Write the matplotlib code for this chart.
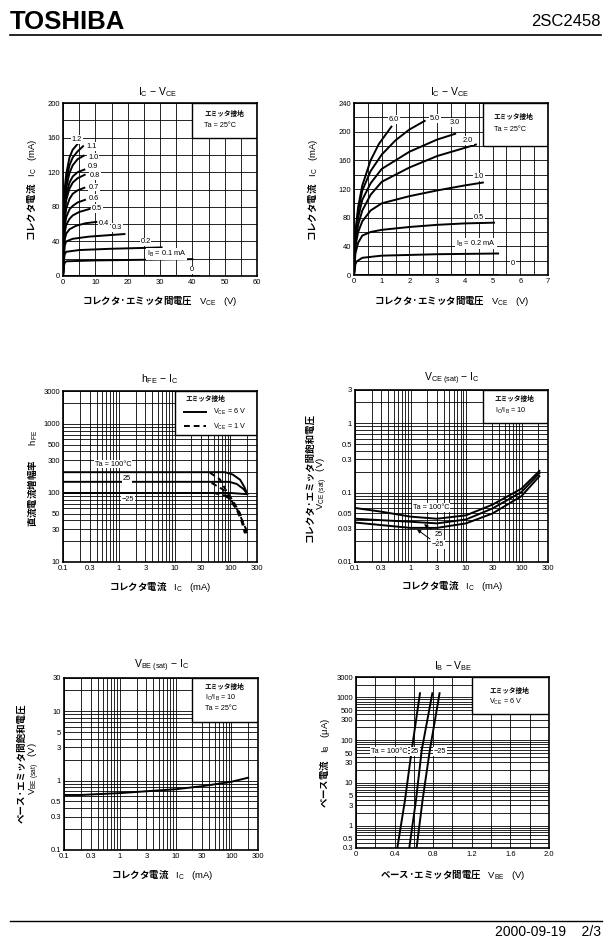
import numpy as np
import matplotlib
matplotlib.use("Agg")
import matplotlib.pyplot as plt
from matplotlib.patches import Rectangle
from matplotlib.lines import Line2D
from matplotlib.ticker import (FixedLocator, FixedFormatter, LogLocator,
                               NullFormatter, MultipleLocator)

# ---------------------------------------------------
# DATA : IC - VCE (0 - 60 V), IB in mA
# ---------------------------------------------------

ib_a = ["0", "0.1", "0.2", "0.3", "0.4", "0.5", "0.6",
        "0.7", "0.8", "0.9", "1.0", "1.1", "1.2"]

vce_a = [
    [0, 42],
    [0, 0.3, 0.5, 1, 10, 40],
    [0, 0.3, 0.5, 1, 5, 15, 30.5],
    [0, 0.3, 0.5, 1, 3, 8, 19],
    [0, 0.3, 0.5, 1, 2, 4, 7, 10.3],
    [0, 0.3, 0.5, 1, 2, 3, 5, 8.2],
    [0, 0.3, 0.5, 1, 2, 3, 4.5, 6.8],
    [0, 0.3, 0.5, 1, 2, 3, 4.5, 6.6],
    [0, 0.3, 0.5, 1, 2, 3, 4.5, 6.7],
    [0, 0.3, 0.5, 1, 2, 3, 4.5, 6.6],
    [0, 0.3, 0.5, 1, 2, 3, 4.5, 6.4],
    [0, 0.3, 0.5, 1, 2, 3, 4.5, 6.2],
    [0, 0.3, 0.5, 1, 2, 3, 4.6],
]

ic_a = [
    [0, 0],
    [0, 12, 15, 17, 18, 19.5],
    [0, 18, 25, 28, 30, 31.5, 33],
    [0, 22, 35, 40, 43, 45.5, 48.5],
    [0, 26, 42, 49, 54, 58, 61, 62.5],
    [0, 30, 50, 59, 66, 70, 74, 77.5],
    [0, 34, 57, 68, 77, 81, 85, 88],
    [0, 38, 64, 78, 89, 95, 99, 102],
    [0, 42, 72, 88, 101, 108, 113, 117],
    [0, 45, 78, 94, 108, 115, 120, 123],
    [0, 50, 85, 102, 119, 128, 135, 139],
    [0, 55, 92, 110, 128, 137, 144, 150],
    [0, 60, 100, 118, 137, 146, 153],
]

# ---------------------------------------------------
# DATA : IC - VCE (0 - 7 V), IB in mA
# ---------------------------------------------------

ib_b = ["0", "0.2", "0.5", "1.0", "2.0", "3.0", "5.0", "6.0"]

vce_b = [
    [0, 5.2],
    [0, 0.05, 0.1, 0.3, 1, 3, 5.2],
    [0, 0.05, 0.15, 0.3, 0.6, 1, 2, 3, 4, 5.05],
    [0, 0.05, 0.15, 0.3, 0.6, 1, 2, 3, 4, 4.65],
    [0, 0.05, 0.15, 0.3, 0.6, 1, 2, 3, 4.4],
    [0, 0.05, 0.15, 0.3, 0.6, 1, 2, 3, 3.65],
    [0, 0.05, 0.15, 0.3, 0.6, 1, 1.5, 2, 2.55],
    [0, 0.05, 0.15, 0.3, 0.6, 0.9, 1.35],
]

ic_b = [
    [0, 0],
    [0, 15, 19, 24, 27, 29, 30],
    [0, 30, 45, 55, 60, 63, 67, 70, 72, 73],
    [0, 40, 60, 75, 90, 100, 110, 118, 125, 129],
    [0, 45, 70, 90, 112, 130, 150, 166, 182],
    [0, 50, 80, 105, 128, 148, 172, 189, 197],
    [0, 55, 90, 118, 145, 168, 188, 203, 215],
    [0, 60, 95, 125, 160, 183, 207],
]

# ---------------------------------------------------
# DATA : hFE - IC  (Ta = 100, 25, -25 °C)
# ---------------------------------------------------

ta_labels = ["100", "25", "-25"]

ic_h6 = [[0.1, 80, 110, 150, 180, 200],
         [0.1, 95, 130, 170, 200],
         [0.1, 100, 200]]
hfe_6 = [[200, 200, 185, 155, 120, 97],
         [145, 145, 135, 115, 97],
         [100, 100, 96]]

ic_h1 = [[43, 65, 85, 112, 148, 194],
         [46, 74, 98, 130, 160, 182],
         [50, 80, 106, 139, 170, 210]]
hfe_1 = [[197, 157, 106, 76, 51, 26],
         [140, 112, 80, 57, 38, 26],
         [100, 92, 76, 54, 37, 25]]

# ---------------------------------------------------
# DATA : VCE(sat) - IC
# ---------------------------------------------------

ic_s = [0.1, 0.3, 1, 3, 10, 30, 100, 210]
vce_sat = [
    [0.060, 0.053, 0.045, 0.042, 0.047, 0.067, 0.114, 0.205],
    [0.042, 0.040, 0.038, 0.036, 0.041, 0.059, 0.102, 0.190],
    [0.037, 0.034, 0.031, 0.031, 0.036, 0.050, 0.089, 0.172],
]

# ---------------------------------------------------
# DATA : VBE(sat) - IC
# ---------------------------------------------------

ic_v = [0.1, 0.2, 1, 10, 30, 100, 200]
vbe_sat = [0.62, 0.62, 0.66, 0.75, 0.83, 0.96, 1.10]

# ---------------------------------------------------
# DATA : IB - VBE (IB in uA)
# ---------------------------------------------------

vbe_b = [[0.428, 0.508, 0.577, 0.663],
         [0.552, 0.622, 0.681, 0.791],
         [0.628, 0.690, 0.765, 0.866]]
ib_vbe = [0.3, 4, 58, 1250]

# ---------------------------------------------------
# TICK LABELS
# ---------------------------------------------------

xt_a = [0, 10, 20, 30, 40, 50, 60]
yt_a = [0, 40, 80, 120, 160, 200]
xt_b = [0, 1, 2, 3, 4, 5, 6, 7]
yt_b = [0, 40, 80, 120, 160, 200, 240]
xt_log = [0.1, 0.3, 1, 3, 10, 30, 100, 300]
xl_log = ["0.1", "0.3", "1", "3", "10", "30", "100", "300"]
yt_h = [10, 30, 50, 100, 300, 500, 1000, 3000]
yt_s = [0.01, 0.03, 0.05, 0.1, 0.3, 0.5, 1, 3]
yl_s = ["0.01", "0.03", "0.05", "0.1", "0.3", "0.5", "1", "3"]
yt_v = [0.1, 0.3, 0.5, 1, 3, 5, 10, 30]
yl_v = ["0.1", "0.3", "0.5", "1", "3", "5", "10", "30"]
xt_f = [0, 0.4, 0.8, 1.2, 1.6, 2.0]
xl_f = ["0", "0.4", "0.8", "1.2", "1.6", "2.0"]
yt_f = [0.3, 0.5, 1, 3, 5, 10, 30, 50, 100, 300, 500, 1000, 3000]
yl_f = ["0.3", "0.5", "1", "3", "5", "10", "30", "50", "100",
        "300", "500", "1000", "3000"]

# ---------------------------------------------------
# STYLE
# ---------------------------------------------------

plt.rcParams["font.family"] = ["Liberation Sans", "Noto Sans CJK JP"]
plt.rcParams["mathtext.fontset"] = "custom"
plt.rcParams["mathtext.rm"] = "Liberation Sans"
plt.rcParams["mathtext.it"] = "Liberation Sans:italic"
plt.rcParams["mathtext.bf"] = "Liberation Sans:bold"

W, H = 609, 949
fig = plt.figure(figsize=(W / 100, H / 100), dpi=100)

JP = dict(family="Noto Sans CJK JP", fontweight="bold")
LBL = 6.8
TTL = 7.5
MARK = 5.3
WHITE = dict(facecolor="white", edgecolor="none", pad=0.6)


def place_axes(left, top, right, bottom):
    return fig.add_axes([left / W, 1 - bottom / H,
                         (right - left) / W, (bottom - top) / H])


def put(x, y, s, **kw):
    fig.text(x / W, 1 - y / H, s, ha="center", va="center", **kw)


def style(ax, xt, xl, yt, yl):
    ax.xaxis.set_major_locator(FixedLocator(xt))
    ax.xaxis.set_major_formatter(FixedFormatter(xl))
    ax.yaxis.set_major_locator(FixedLocator(yt))
    ax.yaxis.set_major_formatter(FixedFormatter(yl))
    ax.xaxis.set_minor_formatter(NullFormatter())
    ax.yaxis.set_minor_formatter(NullFormatter())
    ax.tick_params(which="both", length=0, labelsize=5.5, pad=2.2)
    ax.grid(which="both", color="black", linewidth=0.6)
    for sp in ax.spines.values():
        sp.set_linewidth(1.2)


def log_minor(axis):
    axis.set_minor_locator(LogLocator(10, subs=np.arange(2, 10), numticks=40))


def info_box(ax, x0, x1, y0, y1):
    ax.add_patch(Rectangle((x0, y0), x1 - x0, y1 - y0, facecolor="white",
                           edgecolor="black", linewidth=1.0, zorder=2))


def box_text(ax, x, y, s, jp=False):
    if jp:
        ax.text(x, y, s, transform=ax.transAxes, fontsize=4.8,
                va="center", zorder=5, **JP)
    else:
        ax.text(x, y, s, transform=ax.transAxes, fontsize=5.2,
                va="center", zorder=5)


# ---------------------------------------------------
# HEADER / FOOTER
# ---------------------------------------------------

fig.text(10 / W, 1 - 22 / H, "TOSHIBA", fontsize=18.5, fontweight="bold",
         ha="left", va="center")
fig.text(601 / W, 1 - 22 / H, "2SC2458", fontsize=12, ha="right", va="center")
fig.add_artist(Line2D([10 / W, 601 / W], [1 - 35 / H, 1 - 35 / H],
                      transform=fig.transFigure, color="black", lw=1.2))
fig.add_artist(Line2D([10 / W, 602 / W], [1 - 921 / H, 1 - 921 / H],
                      transform=fig.transFigure, color="black", lw=1.0))
fig.text(601 / W, 1 - 932 / H, "2000-09-19    2/3", fontsize=10,
         ha="right", va="center")

# ---------------------------------------------------
# IC - VCE  (LEFT TOP)
# ---------------------------------------------------

ax1 = place_axes(63, 103, 257, 276)
ax1.set_xlim(0, 60)
ax1.set_ylim(0, 200)
ax1.xaxis.set_minor_locator(MultipleLocator(5))
ax1.yaxis.set_minor_locator(MultipleLocator(20))
style(ax1, xt_a, [str(v) for v in xt_a], yt_a, [str(v) for v in yt_a])
info_box(ax1, 40, 60, 160, 200)

for v, i in zip(vce_a, ic_a):
    ax1.plot(v, i, color="black", lw=1.4, zorder=3)

lab_pos_a = [(39.8, 7), (32, 25.5), (25.5, 39.4), (16.7, 56), (12.7, 61),
             (10.5, 78), (9.6, 90), (9.6, 102.7), (10, 116), (9.3, 126.6),
             (9.3, 137), (8.8, 150), (4.3, 157.5)]
for name, (x, y) in zip(ib_a, lab_pos_a):
    s = r"$\mathrm{I_B}$ = " + name + " mA" if name == "0.1" else name
    ax1.text(x, y, s, fontsize=MARK, ha="center", va="center",
             bbox=WHITE, zorder=4)

box_text(ax1, 0.728, 0.942, "エミッタ接地", jp=True)
box_text(ax1, 0.728, 0.869, "Ta = 25°C")

put(158, 92, r"$\mathrm{I_C}$ − $\mathrm{V_{CE}}$", fontsize=TTL)
put(160, 301, r"コレクタ·エミッタ間電圧$\quad\mathrm{V_{CE}}\quad\mathrm{(V)}$",
    fontsize=LBL, **JP)
put(32, 190, r"コレクタ電流$\quad\mathrm{I_C}\quad\mathrm{(mA)}$",
    fontsize=LBL, rotation=90, **JP)

# ---------------------------------------------------
# IC - VCE  (RIGHT TOP)
# ---------------------------------------------------

ax2 = place_axes(354, 103, 548, 275)
ax2.set_xlim(0, 7)
ax2.set_ylim(0, 240)
ax2.xaxis.set_minor_locator(MultipleLocator(0.5))
ax2.yaxis.set_minor_locator(MultipleLocator(20))
style(ax2, xt_b, [str(v) for v in xt_b], yt_b, [str(v) for v in yt_b])
info_box(ax2, 4.65, 7, 180, 240)

for v, i in zip(vce_b, ic_b):
    ax2.plot(v, i, color="black", lw=1.4, zorder=3)

lab_pos_b = [(5.74, 16), (4.4, 44), (4.5, 80), (4.5, 137), (4.1, 188),
             (3.62, 212.6), (2.93, 218), (1.45, 216.8)]
for name, (x, y) in zip(ib_b, lab_pos_b):
    s = r"$\mathrm{I_B}$ = " + name + " mA" if name == "0.2" else name
    ax2.text(x, y, s, fontsize=MARK, ha="center", va="center",
             bbox=WHITE, zorder=4)

box_text(ax2, 0.72, 0.919, "エミッタ接地", jp=True)
box_text(ax2, 0.72, 0.847, "Ta = 25°C")

put(450, 92, r"$\mathrm{I_C}$ − $\mathrm{V_{CE}}$", fontsize=TTL)
put(452, 301, r"コレクタ·エミッタ間電圧$\quad\mathrm{V_{CE}}\quad\mathrm{(V)}$",
    fontsize=LBL, **JP)
put(313, 190, r"コレクタ電流$\quad\mathrm{I_C}\quad\mathrm{(mA)}$",
    fontsize=LBL, rotation=90, **JP)

# ---------------------------------------------------
# hFE - IC
# ---------------------------------------------------

ax3 = place_axes(63, 391, 257, 562)
ax3.set_xscale("log")
ax3.set_yscale("log")
ax3.set_xlim(0.1, 300)
ax3.set_ylim(10, 3000)
log_minor(ax3.xaxis)
log_minor(ax3.yaxis)
style(ax3, xt_log, xl_log, yt_h, [str(v) for v in yt_h])
info_box(ax3, 10, 300, 700, 3000)

solid = []
for x, y in zip(ic_h6, hfe_6):
    solid += ax3.plot(x, y, color="black", lw=1.4, zorder=3)
dashed = []
for x, y in zip(ic_h1, hfe_1):
    dashed += ax3.plot(x, y, color="black", lw=1.4, zorder=3,
                       linestyle=(0, (3, 2)))

ax3.text(0.629, 0.955, "エミッタ接地", transform=ax3.transAxes,
         fontsize=4.8, va="center", zorder=5, **JP)
ax3.legend(handles=[solid[0], dashed[0]],
           labels=[r"$\mathrm{V_{CE}}$ = 6 V", r"$\mathrm{V_{CE}}$ = 1 V"],
           loc="upper left", bbox_to_anchor=(0.625, 0.905), frameon=False,
           fontsize=5.2, handlelength=3.0, handletextpad=1.0,
           labelspacing=0.55, borderpad=0, borderaxespad=0)

ta_pos_h = [(0.259, 0.573), (0.328, 0.49), (0.336, 0.363)]
for name, (x, y) in zip(ta_labels, ta_pos_h):
    s = "Ta = 100°C" if name == "100" else name.replace("-", "−")
    ax3.text(x, y, s, transform=ax3.transAxes, fontsize=MARK,
             ha="center", va="center", bbox=WHITE, zorder=4)

put(160, 379, r"$\mathrm{h_{FE}}$ − $\mathrm{I_C}$", fontsize=TTL)
put(160, 587, r"コレクタ電流$\quad\mathrm{I_C}\quad\mathrm{(mA)}$",
    fontsize=LBL, **JP)
put(32, 478, r"直流電流増幅率$\quad\quad\mathrm{h_{FE}}$",
    fontsize=LBL, rotation=90, **JP)

# ---------------------------------------------------
# VCE(sat) - IC
# ---------------------------------------------------

ax4 = place_axes(355, 390, 548, 562)
ax4.set_xscale("log")
ax4.set_yscale("log")
ax4.set_xlim(0.1, 300)
ax4.set_ylim(0.01, 3)
log_minor(ax4.xaxis)
log_minor(ax4.yaxis)
style(ax4, xt_log, xl_log, yt_s, yl_s)
info_box(ax4, 20, 300, 1, 3)

for y in vce_sat:
    ax4.plot(ic_s, y, color="black", lw=1.4, zorder=3)

ax4.text(0.395, 0.317, "Ta = 100°C", transform=ax4.transAxes, fontsize=MARK,
         ha="center", va="center", bbox=WHITE, zorder=4)
ax4.annotate("25", xy=(1.6, 0.037), xytext=(0.433, 0.159),
             textcoords="axes fraction", fontsize=MARK, ha="center",
             va="center", bbox=WHITE, zorder=4,
             arrowprops=dict(arrowstyle="-|>", color="black", lw=0.7,
                             mutation_scale=5))
ax4.annotate("−25", xy=(1.2, 0.031), xytext=(0.43, 0.10),
             textcoords="axes fraction", fontsize=MARK, ha="center",
             va="center", bbox=WHITE, zorder=4,
             arrowprops=dict(arrowstyle="-|>", color="black", lw=0.7,
                             mutation_scale=5))

box_text(ax4, 0.725, 0.951, "エミッタ接地", jp=True)
box_text(ax4, 0.725, 0.878, r"$\mathrm{I_C/I_B}$ = 10")

put(452, 379, r"$\mathrm{V_{CE\ (sat)}}$ − $\mathrm{I_C}$", fontsize=TTL)
put(452, 586, r"コレクタ電流$\quad\mathrm{I_C}\quad\mathrm{(mA)}$",
    fontsize=LBL, **JP)
put(309, 477, "コレクタ·エミッタ間飽和電圧", fontsize=LBL, rotation=90, **JP)
put(322, 483, r"$\mathrm{V_{CE\ (sat)}}\quad\mathrm{(V)}$",
    fontsize=LBL, rotation=90)

# ---------------------------------------------------
# VBE(sat) - IC
# ---------------------------------------------------

ax5 = place_axes(64, 678, 258, 850)
ax5.set_xscale("log")
ax5.set_yscale("log")
ax5.set_xlim(0.1, 300)
ax5.set_ylim(0.1, 30)
log_minor(ax5.xaxis)
log_minor(ax5.yaxis)
style(ax5, xt_log, xl_log, yt_v, yl_v)
info_box(ax5, 20, 300, 7, 30)

ax5.plot(ic_v, vbe_sat, color="black", lw=1.4, zorder=3)

box_text(ax5, 0.725, 0.951, "エミッタ接地", jp=True)
box_text(ax5, 0.725, 0.887, r"$\mathrm{I_C/I_B}$ = 10")
box_text(ax5, 0.725, 0.821, "Ta = 25°C")

put(162, 666, r"$\mathrm{V_{BE\ (sat)}}$ − $\mathrm{I_C}$", fontsize=TTL)
put(162, 875, r"コレクタ電流$\quad\mathrm{I_C}\quad\mathrm{(mA)}$",
    fontsize=LBL, **JP)
put(21, 763, "ベース·エミッタ間飽和電圧", fontsize=LBL, rotation=90, **JP)
put(34, 769, r"$\mathrm{V_{BE\ (sat)}}\quad\mathrm{(V)}$",
    fontsize=LBL, rotation=90)

# ---------------------------------------------------
# IB - VBE
# ---------------------------------------------------

ax6 = place_axes(356, 677, 549, 848)
ax6.set_yscale("log")
ax6.set_xlim(0, 2.0)
ax6.set_ylim(0.3, 3000)
ax6.xaxis.set_minor_locator(MultipleLocator(0.2))
log_minor(ax6.yaxis)
style(ax6, xt_f, xl_f, yt_f, yl_f)
info_box(ax6, 1.2, 2.0, 400, 3000)

for x in vbe_b:
    ax6.plot(x, ib_vbe, color="black", lw=1.4, zorder=3)

ta_pos_f = [(0.17, 0.563), (0.306, 0.563), (0.435, 0.563)]
for name, (x, y) in zip(ta_labels, ta_pos_f):
    s = "Ta = 100°C" if name == "100" else name.replace("-", "−")
    ax6.text(x, y, s, transform=ax6.transAxes, fontsize=MARK,
             ha="center", va="center", bbox=WHITE, zorder=4)

box_text(ax6, 0.69, 0.922, "エミッタ接地", jp=True)
box_text(ax6, 0.69, 0.854, r"$\mathrm{V_{CE}}$ = 6 V")

put(453, 666, r"$\mathrm{I_B}$ − $\mathrm{V_{BE}}$", fontsize=TTL)
put(453, 875, r"ベース·エミッタ間電圧$\quad\mathrm{V_{BE}}\quad\mathrm{(V)}$",
    fontsize=LBL, **JP)
put(325, 763, r"ベース電流$\quad\mathrm{I_B}\quad\mathrm{(μA)}$",
    fontsize=LBL, rotation=90, **JP)

# ---------------------------------------------------
# SAVE
# ---------------------------------------------------

fig.savefig("out.png", dpi=100)
